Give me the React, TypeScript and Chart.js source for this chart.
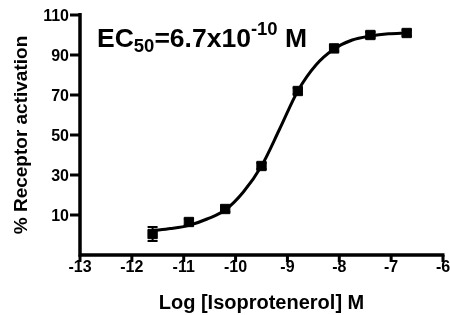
import React, { useEffect, useRef } from "react";
import { Chart, registerables } from "chart.js";

Chart.register(...registerables);

// Measured points (log molar concentration vs % receptor activation)
const logConc = [-11.6, -10.9, -10.2, -9.5, -8.8, -8.1, -7.4, -6.7];
const activation = [0.5, 6.5, 13, 34.5, 72, 93.3, 100, 101];
const activationErr = [3.5, 1.5, 1.5, 1.5, 1.5, 1.5, 1.5, 1.5];

// Fitted curve
const curveX = [-11.6, -11.25, -10.9, -10.55, -10.2, -9.85, -9.5, -9.15, -8.8, -8.45, -8.1, -7.75, -7.4, -7.05, -6.7];
const curveY = [2.2, 3.2, 4.8, 8, 12.5, 21.5, 34.5, 53, 72, 85, 93, 97.5, 99.5, 100.6, 101];

const xTicks = [-13, -12, -11, -10, -9, -8, -7, -6];
const yTicks = [10, 30, 50, 70, 90, 110];

const xTitle = "Log [Isoprotenerol] M";
const yTitle = "% Receptor activation";
const ec50Parts = [
  { text: "EC", kind: "main" },
  { text: "50", kind: "sub" },
  { text: "=6.7x10", kind: "main" },
  { text: "-10", kind: "sup" },
  { text: " M", kind: "main" },
];

const FONT = '"Liberation Sans", Arial, Helvetica, sans-serif';

const errorBarPlugin = {
  id: "errorBars",
  beforeDatasetsDraw(chart: any) {
    const { ctx, scales } = chart;
    const xs = scales.x;
    const ys = scales.y;
    ctx.save();
    ctx.strokeStyle = "#000";
    ctx.lineWidth = 2;
    for (let i = 0; i < logConc.length; i++) {
      const px = xs.getPixelForValue(logConc[i]);
      const top = ys.getPixelForValue(activation[i] + activationErr[i]);
      const bot = ys.getPixelForValue(activation[i] - activationErr[i]);
      ctx.beginPath();
      ctx.moveTo(px, top);
      ctx.lineTo(px, bot);
      ctx.moveTo(px - 5, top);
      ctx.lineTo(px + 5, top);
      ctx.moveTo(px - 5, bot);
      ctx.lineTo(px + 5, bot);
      ctx.stroke();
    }
    ctx.restore();
  },
};

// Axis lines, tick marks and tick labels, placed through the chart's scales
const axesPlugin = {
  id: "prismAxes",
  afterDraw(chart: any) {
    const { ctx, chartArea, scales } = chart;
    const xs = scales.x;
    const ys = scales.y;
    const L = chartArea.left;
    const B = chartArea.bottom;
    ctx.save();
    ctx.strokeStyle = "#000";
    ctx.fillStyle = "#000";
    ctx.lineCap = "butt";
    // axis lines
    ctx.lineWidth = 3.5;
    ctx.beginPath();
    ctx.moveTo(L, ys.getPixelForValue(ys.max) - 2);
    ctx.lineTo(L, B + 1.75);
    ctx.moveTo(L - 1.75, B);
    ctx.lineTo(xs.getPixelForValue(xs.max) + 1.5, B);
    ctx.stroke();
    // tick marks
    ctx.lineWidth = 3;
    ctx.beginPath();
    for (const v of yTicks) {
      const py = ys.getPixelForValue(v);
      ctx.moveTo(L - 10, py);
      ctx.lineTo(L, py);
    }
    for (const v of xTicks) {
      const px = xs.getPixelForValue(v);
      ctx.moveTo(px, B);
      ctx.lineTo(px, B + 7);
    }
    ctx.stroke();
    // tick labels
    ctx.font = `bold 16px ${FONT}`;
    ctx.textBaseline = "alphabetic";
    ctx.textAlign = "right";
    for (const v of yTicks) {
      ctx.fillText(String(v), L - 11, ys.getPixelForValue(v) + 6);
    }
    ctx.textAlign = "center";
    for (const v of xTicks) {
      ctx.fillText(String(v), xs.getPixelForValue(v), B + 17);
    }
    ctx.restore();
  },
};

const labelPlugin = {
  id: "ec50Label",
  afterDraw(chart: any) {
    const { ctx, chartArea } = chart;
    ctx.save();
    ctx.fillStyle = "#000";
    ctx.textBaseline = "alphabetic";
    ctx.textAlign = "left";
    let x = chartArea.left + 17;
    const base = chartArea.top + 32;
    for (const p of ec50Parts) {
      const size = p.kind === "main" ? 26.5 : 18.5;
      ctx.font = `bold ${size}px ${FONT}`;
      const dy = p.kind === "sub" ? 5 : p.kind === "sup" ? -12 : 0;
      ctx.fillText(p.text, x, base + dy);
      x += ctx.measureText(p.text).width;
    }
    ctx.restore();
  },
};

export default function App() {
  const ref = useRef<HTMLCanvasElement | null>(null);

  useEffect(() => {
    if (!ref.current) return;
    const chart = new Chart(ref.current, {
      type: "scatter",
      data: {
        datasets: [
          {
            data: curveX.map((x, i) => ({ x, y: curveY[i] })),
            showLine: true,
            borderColor: "#000",
            borderWidth: 3,
            pointRadius: 0,
            cubicInterpolationMode: "monotone",
            fill: false,
          },
          {
            data: logConc.map((x, i) => ({ x, y: activation[i] })),
            pointStyle: "rect",
            pointRadius: 6.6,
            backgroundColor: "#000",
            borderColor: "#000",
            borderWidth: 1,
          },
        ],
      },
      options: {
        animation: false,
        responsive: false,
        devicePixelRatio: 1,
        layout: { padding: { top: 15, right: 27, left: 0, bottom: 0 } },
        plugins: { legend: { display: false }, tooltip: { enabled: false } },
        scales: {
          x: {
            type: "linear",
            min: -13,
            max: -6,
            afterBuildTicks: (s: any) => {
              s.ticks = xTicks.map((v) => ({ value: v }));
            },
            afterFit: (s: any) => {
              s.height = 60;
            },
            ticks: { display: false },
            grid: { display: false },
            border: { display: false },
            title: {
              display: true,
              text: xTitle,
              color: "#000",
              font: { family: FONT, size: 20, weight: 700 },
              padding: 0,
            },
          },
          y: {
            type: "linear",
            min: -10,
            max: 110,
            afterBuildTicks: (s: any) => {
              s.ticks = yTicks.map((v) => ({ value: v }));
            },
            afterFit: (s: any) => {
              s.width = 80;
            },
            ticks: { display: false },
            grid: { display: false },
            border: { display: false },
            title: {
              display: true,
              text: yTitle,
              color: "#000",
              font: { family: FONT, size: 19, weight: 700 },
              padding: { top: 10, bottom: 0 },
            },
          },
        },
      } as any,
      plugins: [errorBarPlugin, axesPlugin, labelPlugin],
    });
    return () => chart.destroy();
  }, []);

  return (
    <div style={{ position: "fixed", left: 0, top: 0, width: 450, height: 315, overflow: "hidden", background: "#fff" }}>
      <canvas ref={ref} width={470} height={315} style={{ width: 470, height: 315, display: "block" }} />
    </div>
  );
}
